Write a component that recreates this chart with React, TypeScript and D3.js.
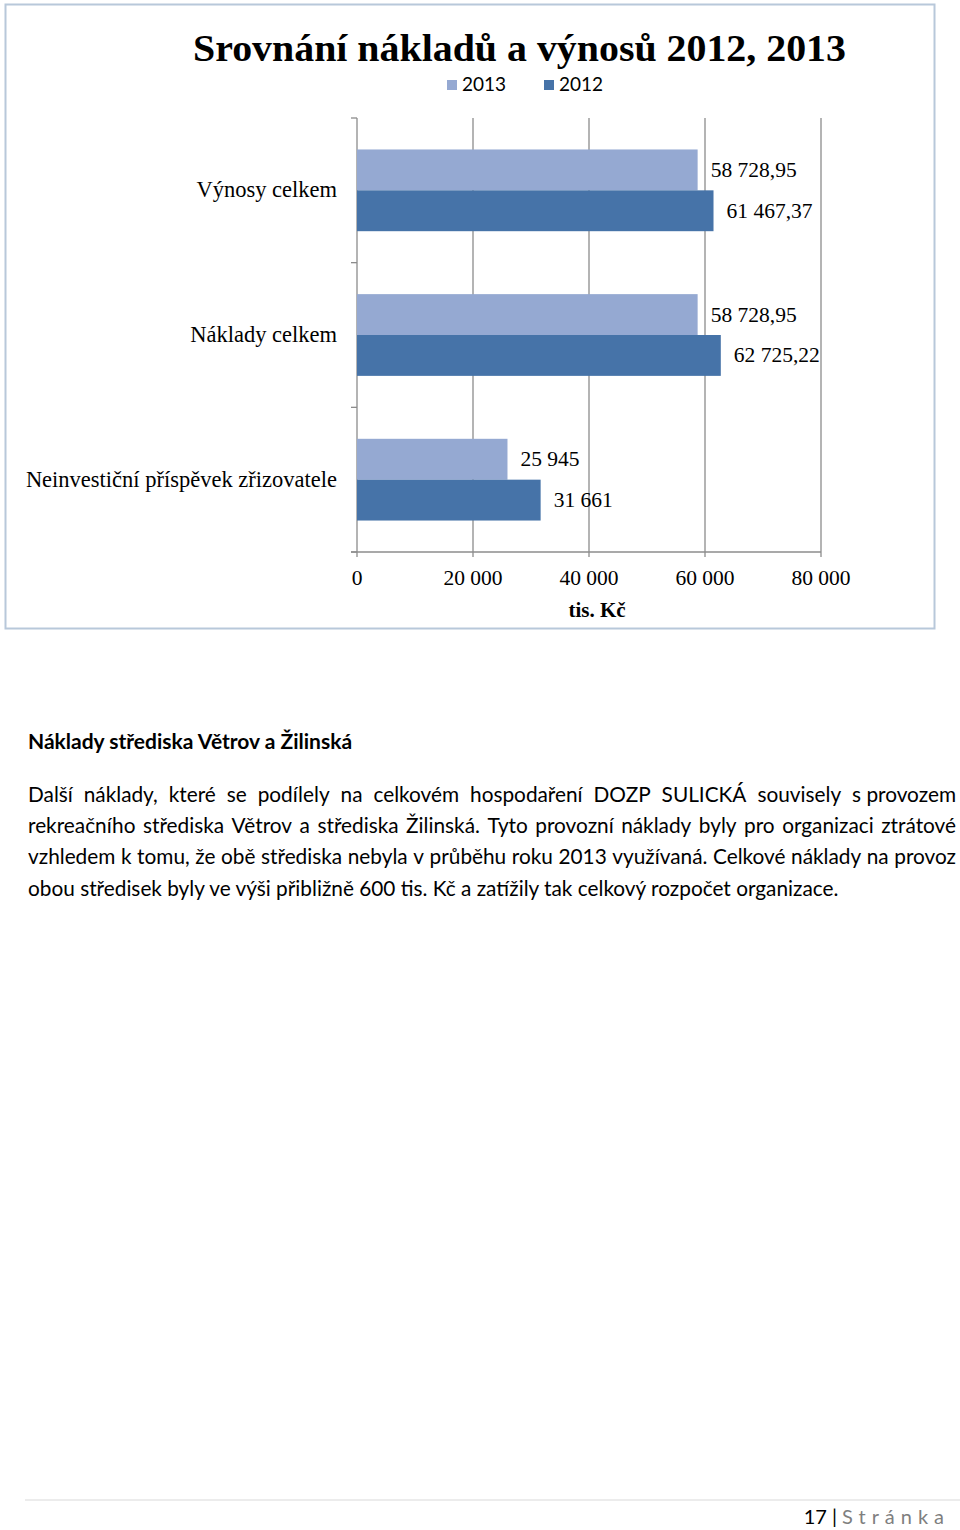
import React, { useEffect, useRef } from "react";
import * as d3 from "d3";

const categories = ["Výnosy celkem", "Náklady celkem", "Neinvestiční příspěvek zřizovatele"];
const series = ["2013", "2012"];
const values2013 = [58728.95, 58728.95, 25945];
const values2012 = [61467.37, 62725.22, 31661];
const labels2013 = ["58 728,95", "58 728,95", "25 945"];
const labels2012 = ["61 467,37", "62 725,22", "31 661"];
const xTicks = [0, 20000, 40000, 60000, 80000];
const colors = ["#95A9D2", "#4673A8"];

const heading = "Náklady střediska Větrov a Žilinská";
const paragraphLines = [
  "Další náklady, které se podílely na celkovém hospodaření DOZP SULICKÁ souvisely s\u00a0provozem",
  "rekreačního střediska Větrov a střediska Žilinská. Tyto provozní náklady byly pro organizaci ztrátové",
  "vzhledem k tomu, že obě střediska nebyla v průběhu roku 2013 využívaná. Celkové náklady na provoz",
  "obou středisek byly ve výši přibližně 600 tis. Kč a zatížily tak celkový rozpočet organizace.",
];

export default function App() {
  const ref = useRef<SVGSVGElement>(null);
  useEffect(() => {
    const svg = d3.select(ref.current);
    svg.selectAll("*").remove();
    const serif = "'Liberation Serif', 'DejaVu Serif', serif";
    const sans = "Lato, 'Open Sans', sans-serif";

    svg.append("rect").attr("x", 5.5).attr("y", 4.5).attr("width", 929).attr("height", 624)
      .attr("fill", "#fff").attr("stroke", "#B8C8DA").attr("stroke-width", 2);

    svg.append("text").attr("x", 193).attr("y", 61).attr("font-family", serif)
      .attr("font-weight", "bold").attr("font-size", 38).attr("fill", "#000")
      .attr("textLength", 653).attr("lengthAdjust", "spacingAndGlyphs")
      .text("Srovnání nákladů a výnosů 2012, 2013");

    const legX = [447, 544];
    series.forEach((s, i) => {
      svg.append("rect").attr("x", legX[i]).attr("y", 80).attr("width", 10).attr("height", 10).attr("fill", colors[i]);
      svg.append("text").attr("x", legX[i] + 15).attr("y", 91).attr("font-family", sans)
        .attr("font-size", 19).attr("fill", "#000").text(s);
    });

    const x = d3.scaleLinear().domain([0, 80000]).range([357, 821]);
    const y = d3.scaleBand().domain(categories).range([118, 552]);
    const inner = d3.scaleBand().domain(series).range([0, y.bandwidth()]).paddingOuter(0.77).paddingInner(0);

    const grid = "#8C8C8C";
    xTicks.slice(1).forEach((t) => {
      svg.append("line").attr("x1", x(t)).attr("x2", x(t)).attr("y1", 118).attr("y2", 557)
        .attr("stroke", grid).attr("stroke-width", 1.3);
    });
    svg.append("line").attr("x1", 351).attr("x2", x(80000)).attr("y1", 552).attr("y2", 552).attr("stroke", grid).attr("stroke-width", 1.3);
    svg.append("line").attr("x1", 357).attr("x2", 357).attr("y1", 118).attr("y2", 557).attr("stroke", grid).attr("stroke-width", 1.3);
    const bounds = [0, 1, 2, 3].map((i) => 118 + i * y.step());
    bounds.forEach((b) => {
      svg.append("line").attr("x1", 351).attr("x2", 357).attr("y1", b).attr("y2", b).attr("stroke", grid).attr("stroke-width", 1.3);
    });
    xTicks.forEach((t) => {
      svg.append("text").attr("x", x(t)).attr("y", 585).attr("text-anchor", "middle").attr("font-family", serif)
        .attr("font-size", 21.5).attr("fill", "#000").text(d3.format(",")(t).replace(/,/g, " "));
    });
    svg.append("text").attr("x", 597).attr("y", 617).attr("text-anchor", "middle").attr("font-family", serif)
      .attr("font-weight", "bold").attr("font-size", 21).attr("fill", "#000").text("tis. Kč");

    const data = [values2013, values2012];
    const labs = [labels2013, labels2012];
    categories.forEach((c, ci) => {
      series.forEach((s, si) => {
        const by = (y(c) as number) + (inner(s) as number);
        const v = data[si][ci];
        svg.append("rect").attr("x", x(0)).attr("y", by).attr("width", x(v) - x(0)).attr("height", inner.bandwidth())
          .attr("fill", colors[si]);
        svg.append("text").attr("x", x(v) + 13).attr("y", by + inner.bandwidth() / 2 + 7)
          .attr("font-family", serif).attr("font-size", 21.5).attr("fill", "#000").text(labs[si][ci]);
      });
      svg.append("text").attr("x", 337).attr("y", (y(c) as number) + y.bandwidth() / 2 + 7).attr("text-anchor", "end")
        .attr("font-family", serif).attr("font-size", 22.5).attr("fill", "#000").text(c);
    });

    svg.append("text").attr("x", 28).attr("y", 749).attr("font-family", sans).attr("font-weight", "bold")
      .attr("font-size", 21).attr("fill", "#000").text(heading);

    const lineY = [802, 833, 864, 896];
    const fs = 20.8;
    paragraphLines.forEach((line, li) => {
      const words = line.split(" ");
      if (li === paragraphLines.length - 1) {
        svg.append("text").attr("x", 28).attr("y", lineY[li]).attr("font-family", sans)
          .attr("font-size", fs).attr("fill", "#000").text(line);
        return;
      }
      const nodes = words.map((w) =>
        svg.append("text").attr("y", lineY[li]).attr("font-family", sans).attr("font-size", fs).attr("fill", "#000").text(w)
      );
      const widths = nodes.map((n) => (n.node() as SVGTextElement).getComputedTextLength());
      const total = widths.reduce((a, b) => a + b, 0);
      const gap = (956 - 28 - total) / (words.length - 1);
      let cx = 28;
      nodes.forEach((n, i) => {
        n.attr("x", cx);
        cx += widths[i] + gap;
      });
    });

    svg.append("line").attr("x1", 25).attr("x2", 960).attr("y1", 1500).attr("y2", 1500).attr("stroke", "#D9D9D9").attr("stroke-width", 1);
    const ft = svg.append("text").attr("x", 950).attr("y", 1524).attr("text-anchor", "end").attr("font-family", sans).attr("font-size", 20);
    ft.append("tspan").attr("fill", "#000").text("17 | ");
    ft.append("tspan").attr("fill", "#7F7F7F").attr("letter-spacing", 6).text("Stránka");
  }, []);
  return (
    <svg ref={ref} width={960} height={1530} style={{ position: "absolute", left: 0, top: 0, background: "#fff" }} />
  );
}
